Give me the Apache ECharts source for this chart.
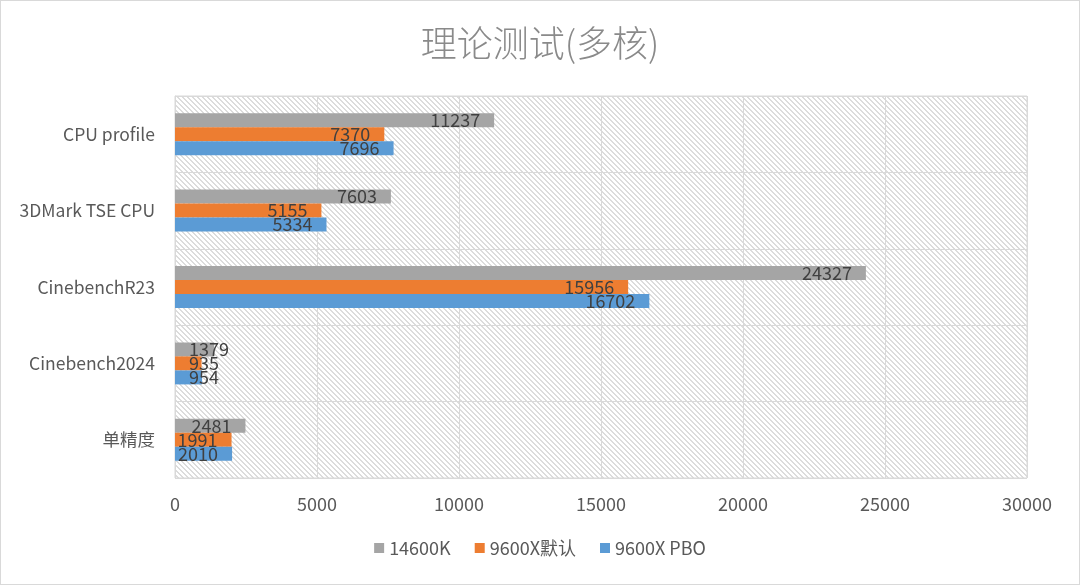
<!DOCTYPE html>
<html>
	<head>
		<meta charset="utf-8">
		<title>理论测试(多核)</title>
		<script src="https://cdn.jsdelivr.net/npm/echarts@6.0.0/dist/echarts.min.js"></script>
		<style>
			html, body { margin: 0; padding: 0; background: #fff; }
			#main { width: 1080px; height: 585px; box-sizing: border-box; border: 1px solid #d9d9d9; }
		</style>
	</head>
	<body>
		<div id="main"></div>
		<script type="text/javascript">
			// 数据
			var categories = ['CPU profile', '3DMark TSE CPU', 'CinebenchR23', 'Cinebench2024', '单精度'];
			var seriesNames = ['14600K', '9600X默认', '9600X PBO'];
			var v14600K = [11237, 7603, 24327, 1379, 2481];
			var v9600X = [7370, 5155, 15956, 935, 1991];
			var v9600XPBO = [7696, 5334, 16702, 954, 2010];
			var colors = ['#A5A5A5', '#ED7D31', '#5B9BD5'];

			// 斜线底纹
			var tile = document.createElement('canvas');
			tile.width = 5;
			tile.height = 5;
			var ctx = tile.getContext('2d');
			ctx.fillStyle = '#ffffff';
			ctx.fillRect(0, 0, 5, 5);
			ctx.fillStyle = '#dcdcdc';
			for (var i = 0; i < 5; i++) {
				ctx.fillRect(i, i, 1, 1);
				ctx.fillRect((i + 1) % 5, i, 1, 1);
			}

			var fontFam = "'Noto Sans CJK SC', 'Noto Sans', sans-serif";

			function makeData(arr) {
				return arr.map(function (v) {
					if (v < 1500) {
						return { value: v, label: { position: 'insideLeft', distance: 14 } };
					}
					return v;
				});
			}

			function makeSeries(name, arr, color) {
				return {
					name: name,
					type: 'bar',
					data: makeData(arr),
					barGap: '0%',
					barCategoryGap: '45%',
					itemStyle: { color: color },
					label: {
						show: true,
						position: 'insideRight',
						distance: 14,
						color: '#404040',
						fontSize: 18,
						fontFamily: fontFam
					}
				};
			}

			var chart = echarts.init(document.getElementById('main'));
			var option = {
				backgroundColor: '#ffffff',
				animation: false,
				title: {
					text: '理论测试(多核)',
					left: 'center',
					top: 19,
					textStyle: {
						color: '#8a8a8a',
						fontSize: 36,
						fontWeight: 300,
						fontFamily: fontFam
					}
				},
				legend: {
					bottom: 22,
					left: 'center',
					itemWidth: 10,
					itemHeight: 10,
					itemGap: 24,
					icon: 'rect',
					data: seriesNames,
					textStyle: { color: '#595959', fontSize: 18, fontFamily: fontFam }
				},
				grid: {
					left: 174,
					right: 52,
					top: 95,
					bottom: 106,
					show: true,
					borderColor: '#d9d9d9',
					borderWidth: 1,
					backgroundColor: { image: tile, repeat: 'repeat' }
				},
				xAxis: {
					type: 'value',
					min: 0,
					max: 30000,
					interval: 5000,
					axisLine: { show: false },
					axisTick: { show: false },
					axisLabel: {
						color: '#595959',
						fontSize: 18,
						margin: 17,
						fontFamily: fontFam,
						formatter: function (v) { return String(v); }
					},
					splitLine: { lineStyle: { color: '#d9d9d9', width: 1 } }
				},
				yAxis: {
					type: 'category',
					inverse: true,
					data: categories,
					axisLine: { show: true, lineStyle: { color: '#d9d9d9' } },
					axisTick: { show: false },
					axisLabel: { color: '#595959', fontSize: 17.5, margin: 20, fontFamily: fontFam },
					splitLine: { show: true, lineStyle: { color: '#d9d9d9', width: 1 } }
				},
				series: [
					makeSeries(seriesNames[0], v14600K, colors[0]),
					makeSeries(seriesNames[1], v9600X, colors[1]),
					makeSeries(seriesNames[2], v9600XPBO, colors[2])
				]
			};
			chart.setOption(option);
		</script>
	</body>
</html>
